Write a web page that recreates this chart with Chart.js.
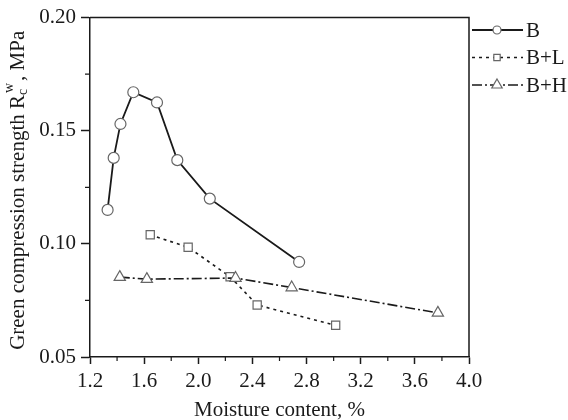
<!DOCTYPE html>
<html>
<head>
<meta charset="utf-8">
<script src="https://cdn.jsdelivr.net/npm/chart.js@4/dist/chart.umd.min.js"></script>
<style>
  html, body { margin: 0; padding: 0; background: #fff; }
  #wrap { width: 568px; height: 420px; }
</style>
</head>
<body>
<div id="wrap"><canvas id="strengthChart"></canvas></div>
<script>
// data
const seriesNames = ['B', 'B+L', 'B+H'];
const moistureB = [1.33, 1.375, 1.425, 1.52, 1.695, 1.845, 2.085, 2.745];
const strengthB = [0.115, 0.138, 0.153, 0.167, 0.1625, 0.137, 0.120, 0.092];
const moistureBL = [1.645, 1.925, 2.235, 2.435, 3.015];
const strengthBL = [0.104, 0.0985, 0.0855, 0.073, 0.064];
const moistureBH = [1.42, 1.62, 2.275, 2.69, 3.77];
const strengthBH = [0.0853, 0.0844, 0.0849, 0.0807, 0.0695];

const xTicks = [1.2, 1.6, 2.0, 2.4, 2.8, 3.2, 3.6, 4.0];
const xMinor = [1.4, 1.8, 2.2, 2.6, 3.0, 3.4, 3.8];
const yTicks = [0.05, 0.10, 0.15, 0.20];
const yMinor = [0.075, 0.125, 0.175];

const serif = '"Liberation Serif", "Times New Roman", serif';
const ink = '#1a1a1a';

function toPoints(xs, ys) {
    return xs.map((x, i) => ({ x: x, y: ys[i] }));
}

// marker drawing shared by the legend
function drawMarker(ctx, style, x, y, r) {
    ctx.beginPath();
    if (style === 'circle') {
        ctx.arc(x, y, r, 0, Math.PI * 2);
    } else if (style === 'rect') {
        const s = r * Math.SQRT1_2;
        ctx.rect(x - s, y - s, 2 * s, 2 * s);
    } else {
        ctx.moveTo(x, y - r);
        ctx.lineTo(x + r * 0.866, y + r * 0.5);
        ctx.lineTo(x - r * 0.866, y + r * 0.5);
        ctx.closePath();
    }
    ctx.fillStyle = '#fff';
    ctx.fill();
    ctx.setLineDash([]);
    ctx.lineWidth = 1.2;
    ctx.strokeStyle = '#666';
    ctx.stroke();
}

const framePlugin = {
    id: 'frame',
    afterDraw(chart) {
        const ctx = chart.ctx;
        const a = chart.chartArea;
        const xs = chart.scales.x;
        const ys = chart.scales.y;
        ctx.save();
        ctx.strokeStyle = ink;
        ctx.lineWidth = 1.5;
        ctx.setLineDash([]);
        // top and right edges of the box
        ctx.beginPath();
        ctx.moveTo(a.left, a.top);
        ctx.lineTo(a.right, a.top);
        ctx.lineTo(a.right, a.bottom);
        ctx.stroke();
        // minor ticks
        ctx.lineWidth = 1.2;
        ctx.beginPath();
        xMinor.forEach(v => {
            const px = xs.getPixelForValue(v);
            ctx.moveTo(px, a.bottom);
            ctx.lineTo(px, a.bottom + 4);
        });
        yMinor.forEach(v => {
            const py = ys.getPixelForValue(v);
            ctx.moveTo(a.left, py);
            ctx.lineTo(a.left - 5, py);
        });
        ctx.stroke();

        // y axis title with sub/superscript
        ctx.translate(18, (a.top + a.bottom) / 2 + 3);
        ctx.rotate(-Math.PI / 2);
        ctx.fillStyle = ink;
        ctx.textBaseline = 'middle';
        const big = '21px ' + serif;
        const small = '14px ' + serif;
        const parts = [
            { t: 'Green compression strength R', f: big, dy: 0 },
            { t: 'c', f: small, dy: 5 },
            { t: 'w', f: small, dy: -9, back: true },
            { t: ', MPa', f: big, dy: 0 }
        ];
        let total = 0;
        const widths = parts.map(p => { ctx.font = p.f; return ctx.measureText(p.t).width; });
        parts.forEach((p, i) => { if (!p.back) total += widths[i]; });
        total += Math.max(0, widths[2] - widths[1]) + 4;
        let cx = -total / 2;
        let lastX = cx;
        parts.forEach((p, i) => {
            ctx.font = p.f;
            if (p.back) {
                ctx.fillText(p.t, lastX + 2, p.dy);
                cx = lastX + 2 + widths[i] + 2;
            } else {
                lastX = cx;
                ctx.fillText(p.t, cx, p.dy);
                cx += widths[i];
            }
        });
        ctx.restore();
    }
};

const legendPlugin = {
    id: 'lineLegend',
    afterDraw(chart) {
        const ctx = chart.ctx;
        ctx.save();
        chart.data.datasets.forEach((ds, i) => {
            const y = 30 + i * 27.5;
            ctx.strokeStyle = ink;
            ctx.lineWidth = ds.borderWidth;
            ctx.setLineDash(ds.borderDash || []);
            ctx.beginPath();
            ctx.moveTo(472, y);
            ctx.lineTo(523, y);
            ctx.stroke();
            drawMarker(ctx, ds.pointStyle, 497, y, ds.legendRadius);
            ctx.fillStyle = ink;
            ctx.font = '21px ' + serif;
            ctx.textBaseline = 'middle';
            ctx.textAlign = 'left';
            ctx.fillText(ds.label, 526, y + 1);
        });
        ctx.restore();
    }
};

const ctx = document.getElementById('strengthChart').getContext('2d');
const strengthChart = new Chart(ctx, {
    type: 'scatter',
    data: {
        datasets: [
            {
                label: seriesNames[0],
                data: toPoints(moistureB, strengthB),
                showLine: true,
                borderColor: ink,
                borderWidth: 1.8,
                pointStyle: 'circle',
                pointRadius: 5.5,
                legendRadius: 4,
                pointBackgroundColor: '#fff',
                pointBorderColor: '#666',
                pointBorderWidth: 1.2,
                order: 1
            },
            {
                label: seriesNames[1],
                data: toPoints(moistureBL, strengthBL),
                showLine: true,
                borderColor: ink,
                borderWidth: 1.6,
                borderDash: [3, 4],
                pointStyle: 'rect',
                pointRadius: 5.8,
                legendRadius: 4.5,
                pointBackgroundColor: '#fff',
                pointBorderColor: '#666',
                pointBorderWidth: 1.2,
                order: 3
            },
            {
                label: seriesNames[2],
                data: toPoints(moistureBH, strengthBH),
                showLine: true,
                borderColor: ink,
                borderWidth: 1.6,
                borderDash: [10, 3, 2, 3],
                pointStyle: 'triangle',
                pointRadius: 6.5,
                legendRadius: 6,
                pointBackgroundColor: '#fff',
                pointBorderColor: '#666',
                pointBorderWidth: 1.2,
                order: 2
            }
        ]
    },
    options: {
        responsive: true,
        maintainAspectRatio: false,
        animation: false,
        layout: {
            padding: { top: 17, right: 99, left: 0, bottom: 0 }
        },
        scales: {
            x: {
                type: 'linear',
                min: 1.2,
                max: 4.0,
                afterBuildTicks: function(scale) {
                    scale.ticks = xTicks.map(v => ({ value: v }));
                },
                afterFit: function(scale) {
                    scale.height = 63;
                },
                grid: {
                    drawOnChartArea: false,
                    drawTicks: true,
                    tickLength: 7,
                    tickColor: ink,
                    tickWidth: 1.5
                },
                border: { display: true, color: ink, width: 1.5 },
                ticks: {
                    color: ink,
                    padding: 5,
                    maxRotation: 0,
                    font: { family: serif, size: 21 },
                    callback: function(value) {
                        return value.toFixed(1);
                    }
                },
                title: {
                    display: true,
                    text: 'Moisture content, %',
                    color: ink,
                    font: { family: serif, size: 21 },
                    padding: { top: 0, bottom: -3 }
                }
            },
            y: {
                type: 'linear',
                min: 0.05,
                max: 0.20,
                afterBuildTicks: function(scale) {
                    scale.ticks = yTicks.map(v => ({ value: v }));
                },
                afterFit: function(scale) {
                    scale.width = 90;
                },
                grid: {
                    drawOnChartArea: false,
                    drawTicks: true,
                    tickLength: 9,
                    tickColor: ink,
                    tickWidth: 1.5
                },
                border: { display: true, color: ink, width: 1.5 },
                ticks: {
                    color: ink,
                    padding: 5,
                    font: { family: serif, size: 21 },
                    callback: function(value) {
                        return value.toFixed(2);
                    }
                }
            }
        },
        plugins: {
            legend: { display: false },
            tooltip: { enabled: false }
        }
    },
    plugins: [framePlugin, legendPlugin]
});
</script>
</body>
</html>
